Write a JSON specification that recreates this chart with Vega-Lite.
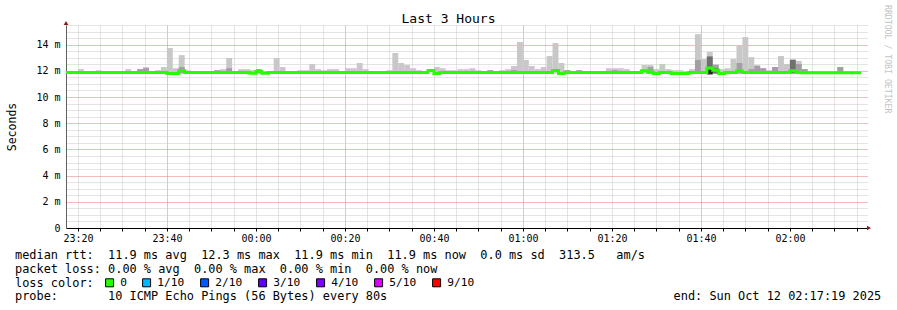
{
 "$schema": "https://vega.github.io/schema/vega-lite/v6.json",
 "width": 801, "height": 203,
 "autosize": {"type": "none"},
 "padding": {"left": 66, "top": 25, "right": 30, "bottom": 82},
 "background": "white",
 "config": {"view": {"stroke": null}, "font": "DejaVu Sans Mono"},
 "title": {"text": "Last 3 Hours", "font": "DejaVu Sans Mono", "fontSize": 13, "fontWeight": "normal", "color": "#000", "dx": -18, "offset": -21, "anchor": "middle"},
 "datasets": {
  "smoke": [
   {"t0":"2025-10-11T23:19:59","t1":"2025-10-11T23:21:19","lo":11.8,"hi":12.13,"band":"light"},
   {"t0":"2025-10-11T23:23:59","t1":"2025-10-11T23:25:19","lo":11.8,"hi":12.05,"band":"light"},
   {"t0":"2025-10-11T23:30:39","t1":"2025-10-11T23:31:59","lo":11.8,"hi":12.13,"band":"light"},
   {"t0":"2025-10-11T23:33:19","t1":"2025-10-11T23:34:39","lo":11.8,"hi":12.13,"band":"light"},
   {"t0":"2025-10-11T23:34:39","t1":"2025-10-11T23:35:59","lo":11.8,"hi":12.29,"band":"light"},
   {"t0":"2025-10-11T23:37:19","t1":"2025-10-11T23:38:39","lo":11.8,"hi":12.05,"band":"light"},
   {"t0":"2025-10-11T23:38:39","t1":"2025-10-11T23:39:59","lo":11.8,"hi":12.29,"band":"light"},
   {"t0":"2025-10-11T23:39:59","t1":"2025-10-11T23:41:19","lo":11.8,"hi":13.74,"band":"light"},
   {"t0":"2025-10-11T23:41:19","t1":"2025-10-11T23:42:39","lo":11.8,"hi":12.2,"band":"light"},
   {"t0":"2025-10-11T23:42:39","t1":"2025-10-11T23:43:59","lo":11.8,"hi":13.2,"band":"light"},
   {"t0":"2025-10-11T23:43:59","t1":"2025-10-11T23:45:19","lo":11.8,"hi":12.05,"band":"light"},
   {"t0":"2025-10-11T23:50:39","t1":"2025-10-11T23:51:59","lo":11.8,"hi":12.05,"band":"light"},
   {"t0":"2025-10-11T23:51:59","t1":"2025-10-11T23:53:19","lo":11.8,"hi":12.13,"band":"light"},
   {"t0":"2025-10-11T23:53:19","t1":"2025-10-11T23:54:39","lo":11.8,"hi":12.98,"band":"light"},
   {"t0":"2025-10-11T23:55:59","t1":"2025-10-11T23:57:19","lo":11.8,"hi":12.13,"band":"light"},
   {"t0":"2025-10-11T23:57:19","t1":"2025-10-11T23:58:39","lo":11.8,"hi":12.13,"band":"light"},
   {"t0":"2025-10-11T23:58:39","t1":"2025-10-11T23:59:59","lo":11.8,"hi":12.05,"band":"light"},
   {"t0":"2025-10-11T23:59:59","t1":"2025-10-12T00:01:19","lo":11.8,"hi":12.13,"band":"light"},
   {"t0":"2025-10-12T00:03:59","t1":"2025-10-12T00:05:19","lo":11.8,"hi":12.98,"band":"light"},
   {"t0":"2025-10-12T00:05:19","t1":"2025-10-12T00:06:39","lo":11.8,"hi":12.29,"band":"light"},
   {"t0":"2025-10-12T00:09:19","t1":"2025-10-12T00:10:39","lo":11.8,"hi":12.05,"band":"light"},
   {"t0":"2025-10-12T00:10:39","t1":"2025-10-12T00:11:59","lo":11.8,"hi":12.05,"band":"light"},
   {"t0":"2025-10-12T00:11:59","t1":"2025-10-12T00:13:19","lo":11.8,"hi":12.52,"band":"light"},
   {"t0":"2025-10-12T00:13:19","t1":"2025-10-12T00:14:39","lo":11.8,"hi":12.13,"band":"light"},
   {"t0":"2025-10-12T00:14:39","t1":"2025-10-12T00:15:59","lo":11.8,"hi":12.05,"band":"light"},
   {"t0":"2025-10-12T00:15:59","t1":"2025-10-12T00:17:19","lo":11.8,"hi":12.13,"band":"light"},
   {"t0":"2025-10-12T00:17:19","t1":"2025-10-12T00:18:39","lo":11.8,"hi":12.13,"band":"light"},
   {"t0":"2025-10-12T00:19:59","t1":"2025-10-12T00:21:19","lo":11.8,"hi":12.2,"band":"light"},
   {"t0":"2025-10-12T00:21:19","t1":"2025-10-12T00:22:39","lo":11.8,"hi":12.2,"band":"light"},
   {"t0":"2025-10-12T00:22:39","t1":"2025-10-12T00:23:59","lo":11.8,"hi":12.6,"band":"light"},
   {"t0":"2025-10-12T00:23:59","t1":"2025-10-12T00:25:19","lo":11.8,"hi":12.13,"band":"light"},
   {"t0":"2025-10-12T00:29:19","t1":"2025-10-12T00:30:39","lo":11.8,"hi":12.05,"band":"light"},
   {"t0":"2025-10-12T00:30:39","t1":"2025-10-12T00:31:59","lo":11.8,"hi":13.36,"band":"light"},
   {"t0":"2025-10-12T00:31:59","t1":"2025-10-12T00:33:19","lo":11.8,"hi":12.6,"band":"light"},
   {"t0":"2025-10-12T00:33:19","t1":"2025-10-12T00:34:39","lo":11.8,"hi":12.44,"band":"light"},
   {"t0":"2025-10-12T00:34:39","t1":"2025-10-12T00:35:59","lo":11.8,"hi":12.2,"band":"light"},
   {"t0":"2025-10-12T00:35:59","t1":"2025-10-12T00:37:19","lo":11.8,"hi":12.05,"band":"light"},
   {"t0":"2025-10-12T00:39:59","t1":"2025-10-12T00:41:19","lo":11.8,"hi":12.29,"band":"light"},
   {"t0":"2025-10-12T00:41:19","t1":"2025-10-12T00:42:39","lo":11.8,"hi":12.2,"band":"light"},
   {"t0":"2025-10-12T00:42:39","t1":"2025-10-12T00:43:59","lo":11.8,"hi":12.05,"band":"light"},
   {"t0":"2025-10-12T00:43:59","t1":"2025-10-12T00:45:19","lo":11.8,"hi":12.05,"band":"light"},
   {"t0":"2025-10-12T00:45:19","t1":"2025-10-12T00:46:39","lo":11.8,"hi":12.13,"band":"light"},
   {"t0":"2025-10-12T00:46:39","t1":"2025-10-12T00:47:59","lo":11.8,"hi":12.13,"band":"light"},
   {"t0":"2025-10-12T00:47:59","t1":"2025-10-12T00:49:19","lo":11.8,"hi":12.2,"band":"light"},
   {"t0":"2025-10-12T00:49:19","t1":"2025-10-12T00:50:39","lo":11.8,"hi":12.05,"band":"light"},
   {"t0":"2025-10-12T00:51:59","t1":"2025-10-12T00:53:19","lo":11.8,"hi":12.05,"band":"light"},
   {"t0":"2025-10-12T00:54:39","t1":"2025-10-12T00:55:59","lo":11.8,"hi":12.05,"band":"light"},
   {"t0":"2025-10-12T00:55:59","t1":"2025-10-12T00:57:19","lo":11.8,"hi":12.13,"band":"light"},
   {"t0":"2025-10-12T00:57:19","t1":"2025-10-12T00:58:39","lo":11.8,"hi":12.37,"band":"light"},
   {"t0":"2025-10-12T00:58:39","t1":"2025-10-12T00:59:59","lo":11.8,"hi":14.2,"band":"light"},
   {"t0":"2025-10-12T00:59:59","t1":"2025-10-12T01:01:19","lo":11.8,"hi":12.83,"band":"light"},
   {"t0":"2025-10-12T01:01:19","t1":"2025-10-12T01:02:39","lo":11.8,"hi":12.37,"band":"light"},
   {"t0":"2025-10-12T01:02:39","t1":"2025-10-12T01:03:59","lo":11.8,"hi":12.13,"band":"light"},
   {"t0":"2025-10-12T01:03:59","t1":"2025-10-12T01:05:19","lo":11.8,"hi":12.29,"band":"light"},
   {"t0":"2025-10-12T01:05:19","t1":"2025-10-12T01:06:39","lo":11.8,"hi":13.13,"band":"light"},
   {"t0":"2025-10-12T01:06:39","t1":"2025-10-12T01:07:59","lo":11.8,"hi":14.12,"band":"light"},
   {"t0":"2025-10-12T01:07:59","t1":"2025-10-12T01:09:19","lo":11.8,"hi":12.6,"band":"light"},
   {"t0":"2025-10-12T01:09:19","t1":"2025-10-12T01:10:39","lo":11.8,"hi":12.05,"band":"light"},
   {"t0":"2025-10-12T01:11:59","t1":"2025-10-12T01:13:19","lo":11.8,"hi":12.05,"band":"light"},
   {"t0":"2025-10-12T01:18:39","t1":"2025-10-12T01:19:59","lo":11.8,"hi":12.2,"band":"light"},
   {"t0":"2025-10-12T01:19:59","t1":"2025-10-12T01:21:19","lo":11.8,"hi":12.2,"band":"light"},
   {"t0":"2025-10-12T01:21:19","t1":"2025-10-12T01:22:39","lo":11.8,"hi":12.2,"band":"light"},
   {"t0":"2025-10-12T01:22:39","t1":"2025-10-12T01:23:59","lo":11.8,"hi":12.13,"band":"light"},
   {"t0":"2025-10-12T01:26:39","t1":"2025-10-12T01:27:59","lo":11.8,"hi":12.44,"band":"light"},
   {"t0":"2025-10-12T01:27:59","t1":"2025-10-12T01:29:19","lo":11.8,"hi":12.44,"band":"light"},
   {"t0":"2025-10-12T01:29:19","t1":"2025-10-12T01:30:39","lo":11.8,"hi":12.13,"band":"light"},
   {"t0":"2025-10-12T01:30:39","t1":"2025-10-12T01:31:59","lo":11.8,"hi":12.52,"band":"light"},
   {"t0":"2025-10-12T01:31:59","t1":"2025-10-12T01:33:19","lo":11.8,"hi":12.13,"band":"light"},
   {"t0":"2025-10-12T01:33:19","t1":"2025-10-12T01:34:39","lo":11.8,"hi":12.05,"band":"light"},
   {"t0":"2025-10-12T01:34:39","t1":"2025-10-12T01:35:59","lo":11.8,"hi":12.05,"band":"light"},
   {"t0":"2025-10-12T01:37:19","t1":"2025-10-12T01:38:39","lo":11.8,"hi":12.13,"band":"light"},
   {"t0":"2025-10-12T01:38:39","t1":"2025-10-12T01:39:59","lo":11.8,"hi":14.8,"band":"light"},
   {"t0":"2025-10-12T01:39:59","t1":"2025-10-12T01:41:19","lo":11.8,"hi":12.9,"band":"light"},
   {"t0":"2025-10-12T01:41:19","t1":"2025-10-12T01:42:39","lo":11.8,"hi":13.44,"band":"light"},
   {"t0":"2025-10-12T01:42:39","t1":"2025-10-12T01:43:59","lo":11.8,"hi":12.52,"band":"light"},
   {"t0":"2025-10-12T01:43:59","t1":"2025-10-12T01:45:19","lo":11.8,"hi":12.13,"band":"light"},
   {"t0":"2025-10-12T01:45:19","t1":"2025-10-12T01:46:39","lo":11.8,"hi":12.2,"band":"light"},
   {"t0":"2025-10-12T01:46:39","t1":"2025-10-12T01:47:59","lo":11.8,"hi":12.9,"band":"light"},
   {"t0":"2025-10-12T01:47:59","t1":"2025-10-12T01:49:19","lo":11.8,"hi":13.9,"band":"light"},
   {"t0":"2025-10-12T01:49:19","t1":"2025-10-12T01:50:39","lo":11.8,"hi":14.58,"band":"light"},
   {"t0":"2025-10-12T01:50:39","t1":"2025-10-12T01:51:59","lo":11.8,"hi":13.05,"band":"light"},
   {"t0":"2025-10-12T01:51:59","t1":"2025-10-12T01:53:19","lo":11.8,"hi":12.44,"band":"light"},
   {"t0":"2025-10-12T01:53:19","t1":"2025-10-12T01:54:39","lo":11.8,"hi":12.2,"band":"light"},
   {"t0":"2025-10-12T01:54:39","t1":"2025-10-12T01:55:59","lo":11.8,"hi":12.05,"band":"light"},
   {"t0":"2025-10-12T01:55:59","t1":"2025-10-12T01:57:19","lo":11.8,"hi":12.29,"band":"light"},
   {"t0":"2025-10-12T01:57:19","t1":"2025-10-12T01:58:39","lo":11.8,"hi":13.13,"band":"light"},
   {"t0":"2025-10-12T01:58:39","t1":"2025-10-12T01:59:59","lo":11.8,"hi":12.52,"band":"light"},
   {"t0":"2025-10-12T01:59:59","t1":"2025-10-12T02:01:19","lo":11.8,"hi":12.9,"band":"light"},
   {"t0":"2025-10-12T02:01:19","t1":"2025-10-12T02:02:39","lo":11.8,"hi":12.75,"band":"light"},
   {"t0":"2025-10-12T02:02:39","t1":"2025-10-12T02:03:59","lo":11.8,"hi":12.13,"band":"light"},
   {"t0":"2025-10-12T02:10:39","t1":"2025-10-12T02:11:59","lo":11.8,"hi":12.29,"band":"light"},
   {"t0":"2025-10-11T23:33:19","t1":"2025-10-11T23:34:39","lo":11.8,"hi":12.13,"band":"mid"},
   {"t0":"2025-10-11T23:34:39","t1":"2025-10-11T23:35:59","lo":11.8,"hi":12.2,"band":"mid"},
   {"t0":"2025-10-11T23:42:39","t1":"2025-10-11T23:43:59","lo":11.8,"hi":12.29,"band":"mid"},
   {"t0":"2025-10-11T23:50:39","t1":"2025-10-11T23:51:59","lo":11.8,"hi":12.05,"band":"mid"},
   {"t0":"2025-10-11T23:53:19","t1":"2025-10-11T23:54:39","lo":11.8,"hi":12.2,"band":"mid"},
   {"t0":"2025-10-11T23:59:59","t1":"2025-10-12T00:01:19","lo":11.8,"hi":12.13,"band":"mid"},
   {"t0":"2025-10-12T00:51:59","t1":"2025-10-12T00:53:19","lo":11.8,"hi":12.05,"band":"mid"},
   {"t0":"2025-10-12T00:57:19","t1":"2025-10-12T00:58:39","lo":11.8,"hi":12.05,"band":"mid"},
   {"t0":"2025-10-12T01:09:19","t1":"2025-10-12T01:10:39","lo":11.8,"hi":12.05,"band":"mid"},
   {"t0":"2025-10-12T01:11:59","t1":"2025-10-12T01:13:19","lo":11.8,"hi":12.05,"band":"mid"},
   {"t0":"2025-10-12T01:19:59","t1":"2025-10-12T01:21:19","lo":11.8,"hi":12.05,"band":"mid"},
   {"t0":"2025-10-12T01:27:59","t1":"2025-10-12T01:29:19","lo":11.8,"hi":12.29,"band":"mid"},
   {"t0":"2025-10-12T01:38:39","t1":"2025-10-12T01:39:59","lo":11.8,"hi":12.83,"band":"mid"},
   {"t0":"2025-10-12T01:42:39","t1":"2025-10-12T01:43:59","lo":11.8,"hi":12.44,"band":"mid"},
   {"t0":"2025-10-12T01:47:59","t1":"2025-10-12T01:49:19","lo":11.8,"hi":12.6,"band":"mid"},
   {"t0":"2025-10-12T01:50:39","t1":"2025-10-12T01:51:59","lo":11.8,"hi":12.13,"band":"mid"},
   {"t0":"2025-10-12T01:51:59","t1":"2025-10-12T01:53:19","lo":11.8,"hi":12.37,"band":"mid"},
   {"t0":"2025-10-12T01:53:19","t1":"2025-10-12T01:54:39","lo":11.8,"hi":12.2,"band":"mid"},
   {"t0":"2025-10-12T01:55:59","t1":"2025-10-12T01:57:19","lo":11.8,"hi":12.29,"band":"mid"},
   {"t0":"2025-10-12T02:01:19","t1":"2025-10-12T02:02:39","lo":11.8,"hi":12.52,"band":"mid"},
   {"t0":"2025-10-12T02:02:39","t1":"2025-10-12T02:03:59","lo":11.8,"hi":12.13,"band":"mid"},
   {"t0":"2025-10-12T02:10:39","t1":"2025-10-12T02:11:59","lo":11.8,"hi":12.29,"band":"mid"},
   {"t0":"2025-10-12T01:41:19","t1":"2025-10-12T01:42:39","lo":11.8,"hi":13.1,"band":"dark"},
   {"t0":"2025-10-12T01:42:39","t1":"2025-10-12T01:43:59","lo":11.8,"hi":12.2,"band":"dark"},
   {"t0":"2025-10-12T01:59:59","t1":"2025-10-12T02:01:19","lo":11.8,"hi":12.83,"band":"dark"},
   {"t0":"2025-10-12T01:41:19","t1":"2025-10-12T01:42:39","lo":11.72,"hi":12.1,"band":"core"}
  ],
  "median": [
   {"t":"2025-10-11T23:17:19","median":11.88,"loss":"0"},
   {"t":"2025-10-11T23:39:59","median":11.8,"loss":"0"},
   {"t":"2025-10-11T23:42:39","median":12.0,"loss":"0"},
   {"t":"2025-10-11T23:43:59","median":11.88,"loss":"0"},
   {"t":"2025-10-11T23:58:39","median":11.82,"loss":"0"},
   {"t":"2025-10-11T23:59:59","median":11.95,"loss":"0"},
   {"t":"2025-10-12T00:01:19","median":11.82,"loss":"0"},
   {"t":"2025-10-12T00:02:39","median":11.88,"loss":"0"},
   {"t":"2025-10-12T00:38:39","median":12.02,"loss":"0"},
   {"t":"2025-10-12T00:39:59","median":11.8,"loss":"0"},
   {"t":"2025-10-12T00:41:19","median":11.88,"loss":"0"},
   {"t":"2025-10-12T01:06:39","median":12.02,"loss":"0"},
   {"t":"2025-10-12T01:07:59","median":11.8,"loss":"0"},
   {"t":"2025-10-12T01:09:19","median":11.88,"loss":"0"},
   {"t":"2025-10-12T01:26:39","median":12.0,"loss":"0"},
   {"t":"2025-10-12T01:27:59","median":11.9,"loss":"0"},
   {"t":"2025-10-12T01:29:19","median":11.8,"loss":"0"},
   {"t":"2025-10-12T01:30:39","median":11.88,"loss":"0"},
   {"t":"2025-10-12T01:33:19","median":11.8,"loss":"0"},
   {"t":"2025-10-12T01:37:19","median":11.88,"loss":"0"},
   {"t":"2025-10-12T01:41:19","median":12.22,"loss":"0"},
   {"t":"2025-10-12T01:42:39","median":12.05,"loss":"0"},
   {"t":"2025-10-12T01:43:59","median":11.8,"loss":"0"},
   {"t":"2025-10-12T01:45:19","median":11.88,"loss":"0"},
   {"t":"2025-10-12T01:47:59","median":11.98,"loss":"0"},
   {"t":"2025-10-12T01:49:19","median":11.88,"loss":"0"},
   {"t":"2025-10-12T01:59:59","median":12.0,"loss":"0"},
   {"t":"2025-10-12T02:01:19","median":11.88,"loss":"0"},
   {"t":"2025-10-12T02:02:39","median":11.85,"loss":"0"},
   {"t":"2025-10-12T02:15:59","median":11.85,"loss":"0"}
  ]
 },
 "layer": [
  {
   "data": {"name": "smoke"},
   "mark": {"type": "rect", "strokeWidth": 0},
   "encoding": {
    "x": {"field": "t0", "type": "temporal", "scale": {"domain": [{"year":2025,"month":10,"date":11,"hours":23,"minutes":17,"seconds":19},{"year":2025,"month":10,"date":12,"hours":2,"minutes":17,"seconds":19}], "nice": false}},
    "x2": {"field": "t1"},
    "y": {"field": "lo", "type": "quantitative", "scale": {"domain": [0, 15.5], "nice": false, "zero": false}},
    "y2": {"field": "hi"},
    "fill": {"field": "band", "type": "nominal", "scale": {"domain": ["light", "mid", "dark", "core"], "range": ["#c8c8c8", "#a0a0a0", "#707070", "#282828"]}, "legend": null}
   }
  },
  {
   "data": {"name": "median"},
   "mark": {"type": "line", "interpolate": "step-after", "strokeWidth": 3, "color": "#26ff00"},
   "encoding": {
    "x": {"field": "t", "type": "temporal",
      "axis": {
       "tickCount": 36,
       "labelExpr": "minutes(datum.value) % 20 == 0 ? timeFormat(datum.value, '%H:%M') : ''",
       "labelFont": "DejaVu Sans Mono", "labelFontSize": 10, "labelColor": "#000", "labelPadding": 2, "labelOverlap": false, "labelFlush": false,
       "ticks": true, "tickSize": 3, "tickColor": "#000",
       "grid": true, "gridDash": [1, 1], "gridWidth": 1,
       "gridColor": {"condition": {"test": "(hours(datum.value) * 60 + minutes(datum.value)) % 40 == 20", "value": "#ea7878"}, "value": "#c8c8c8"},
       "domainColor": "#000", "domainWidth": 1,
       "title": [
        "median rtt:\u00a0\u00a011.9 ms avg\u00a0\u00a012.3 ms max\u00a0\u00a011.9 ms min\u00a0\u00a011.9 ms now\u00a0\u00a00.0 ms sd\u00a0\u00a0313.5\u00a0\u00a0\u00a0am/s",
        "packet loss: 0.00 % avg\u00a0\u00a00.00 % max\u00a0\u00a00.00 % min\u00a0\u00a00.00 % now",
        "loss color:",
        "probe:\u00a0\u00a0\u00a0\u00a0\u00a0\u00a0\u00a010 ICMP Echo Pings (56 Bytes) every 80s\u00a0\u00a0\u00a0\u00a0\u00a0\u00a0\u00a0\u00a0\u00a0\u00a0\u00a0\u00a0\u00a0\u00a0\u00a0\u00a0\u00a0\u00a0\u00a0\u00a0\u00a0\u00a0\u00a0\u00a0\u00a0\u00a0\u00a0\u00a0\u00a0\u00a0\u00a0\u00a0\u00a0\u00a0\u00a0\u00a0\u00a0\u00a0\u00a0\u00a0end: Sun Oct 12 02:17:19 2025"
       ],
       "titleFont": "DejaVu Sans Mono", "titleFontSize": 11.9, "titleFontWeight": "normal", "titleColor": "#000",
       "titleX": -51.5, "titleY": 30.3, "titleAlign": "left", "titleBaseline": "alphabetic", "titleLineHeight": 13.9
      }},
    "y": {"field": "median", "type": "quantitative",
      "axis": {
       "tickCount": 31,
       "labelExpr": "datum.value % 2 == 0 ? (datum.value == 0 ? '0' : datum.value + ' m') : ''",
       "labelFont": "DejaVu Sans Mono", "labelFontSize": 10, "labelColor": "#000", "labelPadding": 6, "labelOverlap": false,
       "ticks": false,
       "grid": true, "gridDash": [1, 1], "gridWidth": 1,
       "gridColor": {"condition": {"test": "datum.value % 2 == 0", "value": "#ea7878"}, "value": "#c8c8c8"},
       "domainColor": "#606060", "domainWidth": 1,
       "title": "Seconds", "titleFont": "DejaVu Sans Mono", "titleFontSize": 11.5, "titleFontWeight": "normal", "titleColor": "#000",
       "titleX": -51, "titleY": 101.5, "titleAngle": -90, "titleAlign": "center", "titleBaseline": "alphabetic"
      }}
   }
  },
  {
   "data": {"name": "median"},
   "mark": {"type": "point", "shape": "square", "filled": true, "opacity": 0, "size": 64},
   "encoding": {
    "x": {"field": "t", "type": "temporal"},
    "y": {"field": "median", "type": "quantitative"},
    "color": {"field": "loss", "type": "nominal",
      "scale": {"domain": ["0", "1/10", "2/10", "3/10", "4/10", "5/10", "9/10"], "range": ["#26ff00", "#00b8ff", "#0059ff", "#5e00ff", "#7e00ff", "#dd00ff", "#ff0000"]},
      "legend": {
       "orient": "none", "legendX": 38, "legendY": 252, "direction": "horizontal", "title": null,
       "symbolType": "square", "symbolSize": 64, "symbolStrokeWidth": 1, "symbolStrokeColor": "#000", "symbolOpacity": 1,
       "labelFont": "DejaVu Sans Mono", "labelFontSize": 11.2, "labelColor": "#000", "labelOffset": 5, "columnPadding": 13, "padding": 0
      }}
   }
  },
  {
   "data": {"values": [{}]},
   "mark": {"type": "point", "shape": "triangle-up", "filled": true, "size": 22, "color": "#8b1a1a", "opacity": 1},
   "encoding": {
    "x": {"datum": {"year":2025,"month":10,"date":11,"hours":23,"minutes":17,"seconds":19}, "type": "temporal"},
    "y": {"datum": 15.65, "type": "quantitative"}
   }
  },
  {
   "data": {"values": [{}]},
   "mark": {"type": "point", "shape": "triangle-right", "filled": true, "size": 22, "color": "#8b1a1a", "opacity": 1},
   "encoding": {
    "x": {"datum": {"year":2025,"month":10,"date":12,"hours":2,"minutes":17,"seconds":46}, "type": "temporal"},
    "y": {"datum": 0, "type": "quantitative"}
   }
  },
  {
   "data": {"values": [{}]},
   "mark": {"type": "text", "text": "RRDTOOL / TOBI OETIKER", "angle": 90, "align": "left", "baseline": "middle", "font": "DejaVu Sans Mono", "fontSize": 8.2, "color": "#c4c4c4"},
   "encoding": {
    "x": {"datum": {"year":2025,"month":10,"date":12,"hours":2,"minutes":21,"seconds":42}, "type": "temporal"},
    "y": {"datum": 17.03, "type": "quantitative"}
   }
  }
 ]
}
